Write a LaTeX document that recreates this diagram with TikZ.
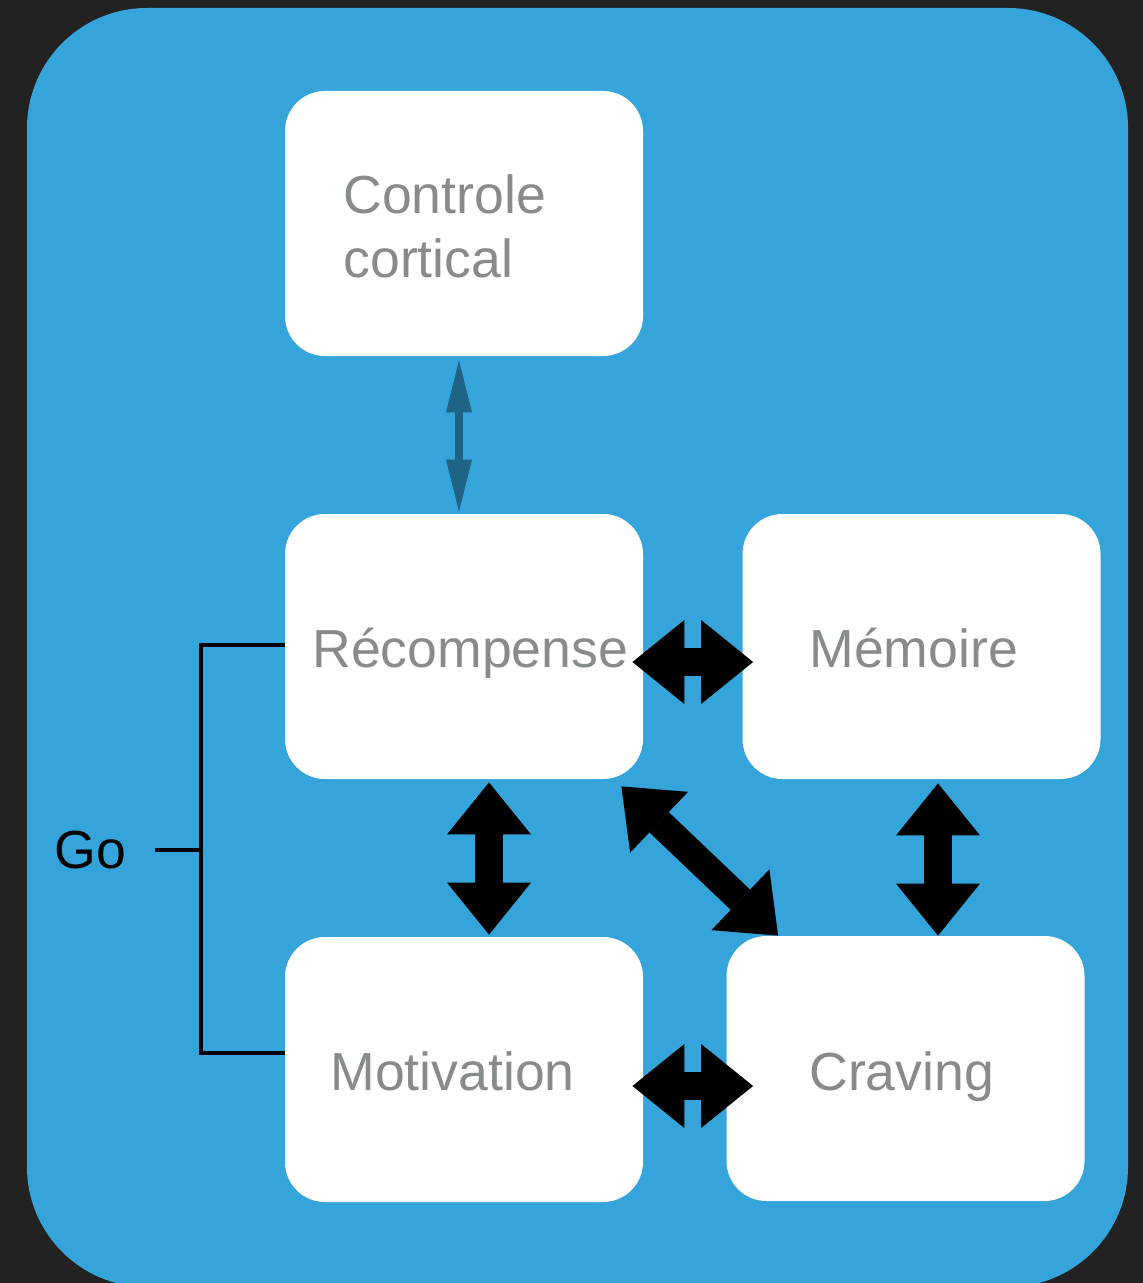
\documentclass[tikz,border=0pt]{standalone}
\usepackage{fontspec}
\setmainfont{Liberation Sans}
\usetikzlibrary{calc,arrows.meta,positioning}
\usepackage{xcolor}
\definecolor{FondSombre}{HTML}{222222}
\definecolor{CadreBleu}{HTML}{35A4DB}
\definecolor{FlecheBleue}{HTML}{1E6384}
\definecolor{TexteGris}{HTML}{888B8C}

\begin{document}
\begin{tikzpicture}[x=0.5pt, y=-0.5pt]
  \tikzset{%
    boite/.style={shape=rectangle, rounded corners=20pt, fill=white,%
      minimum width=179pt, minimum height=132.5pt, inner sep=0pt},%
    etiquette/.style={text=TexteGris, inner sep=0pt,%
      font=\fontsize{26.8}{32}\selectfont},%
    grosse fleche/.style={line width=14pt,%
      {Triangle[length=26pt, width=42pt, line width'=0pt]}-{Triangle[length=26pt, width=42pt, line width'=0pt]}},%
    fine fleche/.style={draw=FlecheBleue, line width=4pt,%
      {Triangle[length=26pt, width=13pt, line width'=0pt, fill=FlecheBleue]}-{Triangle[length=26pt, width=13pt, line width'=0pt, fill=FlecheBleue]}},%
    accolade/.style={line width=2.2pt}%
  }%

  %
  % Fond
  %
  \useasboundingbox (0,0) rectangle (1143,1283);%
  \fill[FondSombre] (0,0) rectangle (1143,1283);%
  \fill[CadreBleu, rounded corners=60pt] (27,8) rectangle (1128,1287);%

  %
  % Boites
  %
  \node[boite] (cc) at (464,223.5) {};%
  \node[boite] (rec) at (464,646.5) {};%
  \node[boite] (mem) at (921.5,646.5) {};%
  \node[boite] (mot) at (464,1069.5) {};%
  \node[boite] (crav) at (905.5,1068.5) {};%

  % Textes
  \node[etiquette, anchor=west, align=left] (cc texte) at (343,226) {Controle\\cortical};%
  \node[etiquette, anchor=base west] (rec texte) at (312,667) {Récompense};%
  \node[etiquette, anchor=base west] (mem texte) at (809,667) {Mémoire};%
  \node[etiquette, anchor=base west] (mot texte) at (330,1090) {Motivation};%
  \node[etiquette, anchor=base west] (crav texte) at (809,1090) {Craving};%

  %
  % Fleches
  %
  \draw[fine fleche] ($(cc.south)+(-5,4)$) -- ($(rec.north)+(-5,-2)$);%
  \draw[grosse fleche] ($(rec.east)+(-11,15.5)$) -- ($(mem.west)+(11,15.5)$);%
  \draw[grosse fleche] ($(mot.east)+(-11,16.5)$) -- ($(crav.west)+(27,17.5)$);%
  \draw[grosse fleche] ($(rec.south)+(25,3)$) -- ($(mot.north)+(25,-2)$);%
  \draw[grosse fleche] ($(mem.south)+(16.5,4)$) -- ($(crav.north)+(32.5,0)$);%
  \draw[grosse fleche] ($(rec.south east)+(-22,7)$) -- ($(crav.north west)+(52,0)$);%

  %
  % Go
  %
  \node[inner sep=0pt, anchor=base west, font=\fontsize{26.8}{32}\selectfont] (go) at (54,868) {Go};%
  \coordinate (go jonction) at (201,850);%
  \coordinate (go pointe) at (155,850);%
  \draw[accolade] ($(rec.west)+(0,-1.5)$) -| (go jonction) |- ($(mot.west)+(0,-16.5)$);%
  \draw[accolade] (go jonction) -- (go pointe);%
\end{tikzpicture}
\end{document}
